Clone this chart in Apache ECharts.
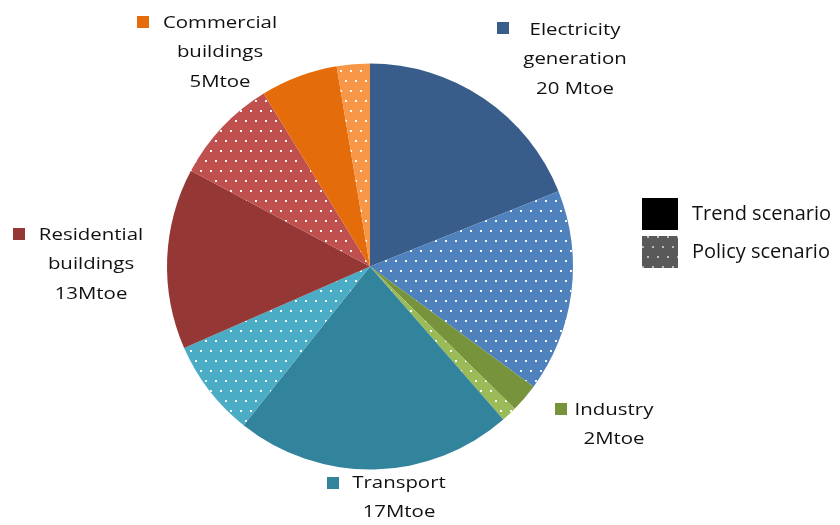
<!DOCTYPE html>
<html>
<head>
<meta charset="utf-8">
<style>
  html, body { margin: 0; padding: 0; background: #ffffff; }
  #chart { width: 840px; height: 525px; }
</style>
<script src="https://cdn.jsdelivr.net/npm/echarts@6/dist/echarts.min.js"></script>
</head>
<body>
<div id="chart"></div>
<script>
// Energy savings by sector (Mtoe), split into trend and policy scenario shares
const categories = ['Electricity generation', 'Industry', 'Transport', 'Residential buildings', 'Commercial buildings'];
const trendValues = [10.8, 1.3, 12.6, 8.2, 3.5];
const policyValues = [9.2, 0.7, 4.4, 4.8, 1.5];
const sectorTotals = [20, 2, 17, 13, 5];
const labelLines = [
  ['Electricity', 'generation', '20 Mtoe'],
  ['Industry', '2Mtoe'],
  ['Transport', '17Mtoe'],
  ['Residential', 'buildings', '13Mtoe'],
  ['Commercial', 'buildings', '5Mtoe']
];
const scenarioNames = ['Trend scenario', 'Policy scenario'];

// Styling
const trendColors = ['#385D8A', '#77933C', '#31849B', '#953735', '#E46C0A'];
const policyColors = ['#4F81BD', '#9BBB59', '#4BACC6', '#C0504D', '#F79646'];
const dotDecal = {
  symbol: 'rect',
  symbolSize: 1,
  color: 'rgba(255,255,255,0.95)',
  dashArrayX: [[2, 8], [0, 5, 2, 3]],
  dashArrayY: [1.5, 7.5],
  rotation: 0
};
const FONT = '"Open Sans", "DejaVu Sans", sans-serif';

// Label block placement: centre x of the text, y of the first line, square position
const labelLayout = [
  { cx: 575, y: 30, sq: [497, 22] },
  { cx: 614, y: 410, sq: [555, 403] },
  { cx: 399, y: 483, sq: [327, 477] },
  { cx: 91, y: 235, sq: [13, 228] },
  { cx: 220, y: 23, sq: [137, 16] }
];
const LINE_H = 29.5;

const pieData = [];
categories.forEach((c, i) => {
  pieData.push({ name: c + ' (trend)', value: trendValues[i], itemStyle: { color: trendColors[i] } });
  pieData.push({ name: c + ' (policy)', value: policyValues[i], itemStyle: { color: policyColors[i], decal: dotDecal } });
});

const graphics = [];
categories.forEach((c, i) => {
  const lay = labelLayout[i];
  graphics.push({
    type: 'rect',
    shape: { x: lay.sq[0], y: lay.sq[1], width: 12, height: 12 },
    style: { fill: trendColors[i] },
    silent: true
  });
  labelLines[i].forEach((line, k) => {
    graphics.push({
      type: 'text',
      x: lay.cx,
      y: lay.y + k * LINE_H,
      scaleX: 1.2,
      style: {
        text: line,
        x: 0, y: 0,
        textAlign: 'center',
        textVerticalAlign: 'middle',
        font: '17px ' + FONT,
        fill: '#111111'
      },
      silent: true
    });
  });
});

const chart = echarts.init(document.getElementById('chart'), null, { renderer: 'canvas' });
chart.setOption({
  backgroundColor: '#ffffff',
  animation: false,
  legend: {
    data: scenarioNames,
    orient: 'vertical',
    left: 637,
    top: 193,
    itemWidth: 36,
    itemHeight: 32,
    itemGap: 6,
    selectedMode: false,
    icon: 'rect',
    textStyle: {
      fontFamily: FONT,
      fontSize: 20,
      color: '#111111',
      padding: [0, 0, 0, 9]
    }
  },
  graphic: graphics,
  series: [
    {
      type: 'pie',
      center: [370, 266.5],
      radius: 203,
      startAngle: 90,
      clockwise: true,
      label: { show: false },
      labelLine: { show: false },
      emphasis: { disabled: true },
      itemStyle: { borderWidth: 0 },
      data: pieData
    },
    {
      // carries the two scenario swatches shown in the legend
      type: 'pie',
      center: [370, 266.5],
      radius: [0, 0],
      silent: true,
      label: { show: false },
      labelLine: { show: false },
      data: [
        { name: scenarioNames[0], value: 1, itemStyle: { color: '#000000' } },
        { name: scenarioNames[1], value: 1, itemStyle: { color: '#595959', decal: Object.assign({}, dotDecal, { color: 'rgba(255,255,255,0.6)' }) } }
      ]
    }
  ]
});
</script>
</body>
</html>
